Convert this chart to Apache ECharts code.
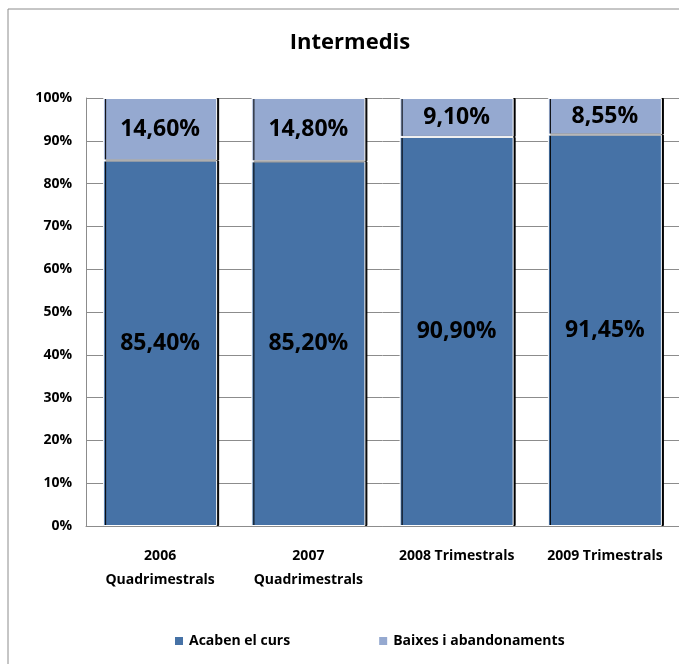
<!DOCTYPE html>
<html><head><meta charset="utf-8">
<script src="https://cdn.jsdelivr.net/npm/echarts@6/dist/echarts.min.js"></script>
<style>html,body{margin:0;padding:0;background:#fff}#c{width:679px;height:664px}</style>
</head><body><div id="c"></div>
<script>
const categories = ['2006\nQuadrimestrals', '2007\nQuadrimestrals', '2008 Trimestrals', '2009 Trimestrals'];
const acaben = [85.40, 85.20, 90.90, 91.45];
const baixes = [14.60, 14.80, 9.10, 8.55];
const seriesNames = ['Acaben el curs', 'Baixes i abandonaments'];
const yTicks = [0, 10, 20, 30, 40, 50, 60, 70, 80, 90, 100];

const FONT = '"Open Sans", sans-serif';
const fmt = v => v.toFixed(2).replace('.', ',') + '%';
const chart = echarts.init(document.getElementById('c'));
const barStyle = (color) => ({
  color: color, borderColor: '#fff', borderWidth: 1,
  shadowColor: '#000', shadowOffsetX: 2, shadowOffsetY: 0, shadowBlur: 0
});
chart.setOption({
  animation: false,
  textStyle: { fontFamily: FONT },
  graphic: [{ type: 'rect', shape: { x: 8, y: 9, width: 720, height: 720 },
    style: { fill: 'none', stroke: '#8c8c8c', lineWidth: 1 }, z: -1 }],
  title: { text: 'Intermedis', left: 345, top: 27, textAlign: 'center',
    textStyle: { fontFamily: FONT, fontWeight: 'bold', fontSize: 22, color: '#000' } },
  legend: { bottom: 11, left: 168, itemGap: 87, itemWidth: 10, itemHeight: 10, icon: 'rect',
    textStyle: { fontFamily: FONT, fontWeight: 'bold', fontSize: 14, color: '#000' },
    data: seriesNames },
  grid: { left: 86, top: 98, width: 595, bottom: 138, containLabel: false },
  xAxis: { type: 'category', data: categories,
    axisLine: { lineStyle: { color: '#8c8c8c' } }, axisTick: { show: false },
    axisLabel: { interval: 0, margin: 18, lineHeight: 24, fontFamily: FONT, fontWeight: 'bold', fontSize: 14, color: '#000' } },
  yAxis: { type: 'value', min: 0, max: 100, interval: 10,
    axisLine: { show: true, lineStyle: { color: '#8c8c8c' } }, axisTick: { show: false },
    splitLine: { lineStyle: { color: '#8c8c8c' } },
    axisLabel: { formatter: '{value}%', margin: 14, fontFamily: FONT, fontWeight: 'bold', fontSize: 14, color: '#000' } },
  series: [
    { name: seriesNames[0], type: 'bar', stack: 't', data: acaben, barWidth: 114,
      itemStyle: barStyle('#4672a6'),
      label: { show: true, position: 'inside', formatter: p => fmt(p.value),
        fontFamily: FONT, fontWeight: 'bold', fontSize: 23, color: '#000' } },
    { name: seriesNames[1], type: 'bar', stack: 't', data: baixes, barWidth: 114,
      itemStyle: barStyle('#95a9d0'),
      label: { show: true, position: 'inside', formatter: p => fmt(p.value),
        fontFamily: FONT, fontWeight: 'bold', fontSize: 23, color: '#000' } }
  ]
});
</script></body></html>
